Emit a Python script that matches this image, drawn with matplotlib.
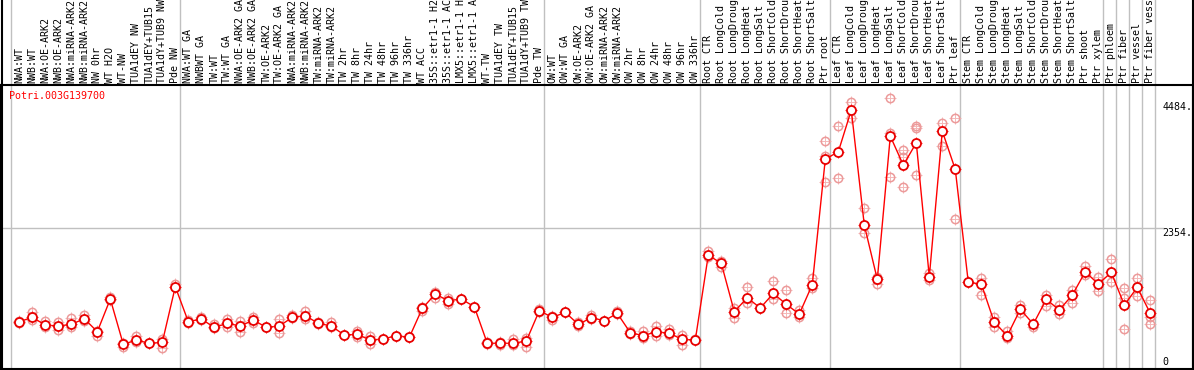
import matplotlib
matplotlib.use("Agg")
import matplotlib.pyplot as plt
from matplotlib.lines import Line2D

gene = "Potri.003G139700"

labels = [
    "NWA:WT", "NWB:WT", "NWA:OE-ARK2", "NWB:OE-ARK2", "NWA:miRNA-ARK2", "NWB:miRNA-ARK2",
    "NW 0hr", "WT H2O", "WT-NW", "TUA1dEY NW", "TUA1dEY+TUB15", "TUA1dY+TUB9 NW", "Pde NW",
    "NWA:WT GA", "NWBWT GA", "TW:WT", "TW:WT GA", "NWA:OE-ARK2 GA", "NWB:OE-ARK2 GA",
    "TW:OE-ARK2", "TW:OE-ARK2 GA", "NWA:miRNA-ARK2", "NWB:miRNA-ARK2", "TW:miRNA-ARK2",
    "TW:miRNA-ARK2", "TW 2hr", "TW 8hr", "TW 24hr", "TW 48hr", "TW 96hr", "TW 336hr",
    "WT ACC", "35S::etr1-1 H2", "35S::etr1-1 AC", "LMX5::etr1-1 H", "LMX5::etr1-1 A",
    "WT-TW", "TUA1dEY TW", "TUA1dEY+TUB15", "TUA1dY+TUB9 TW", "Pde TW",
    "OW:WT", "OW:WT GA", "OW:OE-ARK2", "OW:OE-ARK2 GA", "OW:miRNA-ARK2", "OW:miRNA-ARK2",
    "OW 2hr", "OW 8hr", "OW 24hr", "OW 48hr", "OW 96hr", "OW 336hr",
    "Root CTR", "Root LongCold", "Root LongDroug", "Root LongHeat", "Root LongSalt",
    "Root ShortCold", "Root ShortDrou", "Root ShortHeat", "Root ShortSalt", "Ptr root",
    "Leaf CTR", "Leaf LongCold", "Leaf LongDroug", "Leaf LongHeat", "Leaf LongSalt",
    "Leaf ShortCold", "Leaf ShortDrou", "Leaf ShortHeat", "Leaf ShortSalt", "Ptr leaf",
    "Stem CTR", "Stem LongCold", "Stem LongDroug", "Stem LongHeat", "Stem LongSalt",
    "Stem ShortCold", "Stem ShortDrou", "Stem ShortHeat", "Stem ShortSalt", "Ptr shoot",
    "Ptr xylem", "Ptr phloem", "Ptr fiber", "Ptr vessel", "Ptr fiber vess",
]

means = [
    672, 750, 612, 594, 624, 726, 492, 1080, 264, 342, 282, 300, 1302,
    672, 720, 570, 642, 594, 702, 570, 594, 750, 780, 642, 594, 432, 444, 342, 360,
    420, 390, 912, 1170, 1050, 1080, 942, 282, 282, 282, 324, 870,
    750, 840, 624, 744, 690, 822, 474, 420, 492, 462, 354, 342,
    1872, 1722, 852, 1104, 918, 1182, 984, 810, 1340, 3600,
    3732, 4484, 2412, 1434, 4014, 3492, 3894, 1482, 4104, 3414,
    1380, 1350, 660, 420, 894, 630, 1074, 882, 1152, 1572, 1350,
    1560, 972, 1290, 822,
]

replicates = [
    [690, 654], [841, 702], [690, 571], [666, 522], [733, 571], [787, 690], [510, 414],
    [1111, 1063], [283, 222], [414, 312], [283], [355, 192], [1351, 1291],
    [700, 650], [762, 702], [630, 553], [720, 571], [690, 486], [751, 654], [570],
    [715, 474], [792, 733], [865, 715], [672, 630], [672, 571], [432], [510, 391],
    [414, 270], [360], [420], [390], [931, 870], [1212, 1104], [1093, 991], [1080],
    [942], [312, 270], [312, 252], [355, 252], [372, 222], [895, 852],
    [774, 702], [840], [672, 594], [792, 715], [690], [870, 810], [510, 450],
    [510, 372], [594, 414], [535, 432], [432, 252], [360],
    [1945, 1832], [1770, 1651], [913, 733], [1291, 1003], [918], [1410, 1075],
    [1243, 823], [882, 751], [1453, 1273], [3926, 3656, 3182],
    [4196, 3254], [4623, 4346], [2714, 2264], [1482, 1351], [4695, 4065, 3283],
    [3764, 3633, 3103], [4196, 4155, 3314], [1543, 1423], [4245, 3842], [4335, 2516],
    [1380], [1453, 1153], [762, 571], [510, 372], [972, 823], [571], [1153, 955],
    [972, 810], [1243, 1014], [1675, 1513], [1482, 1225],
    [1796, 1381], [1273, 1093, 540], [1453, 1135], [1063, 762, 625],
]

group_starts = [0, 13, 41, 53, 63, 73, 84, 85, 86, 87, 88]
y_ticks = [4484, 2354, 0]

W, H = 1194, 370
fig = plt.figure(figsize=(W / 100, H / 100), dpi=100)
ax = fig.add_axes([1 / W, 1 / H, 1192 / W, 284 / H])

x = list(range(len(means)))
ax.set_xlim((1 - 19.3) / 13, (1193 - 19.3) / 13)
ax.set_ylim(-180, 4935)

grey = "#c0c0c0"
top_ext = 1 + 85 / 284
for g in group_starts:
    ax.axvline(g - 0.64, ymin=0, ymax=top_ext, color=grey, lw=1, clip_on=False, zorder=1)
ax.axhline(2354, xmax=(1163 - 1) / 1192, color=grey, lw=1, zorder=1)

# replicates
for i, reps in enumerate(replicates):
    xs = [i] * len(reps)
    ax.plot(xs, reps, ls="none", marker="+", ms=8, mew=0.7, color="#f4b8b8", zorder=2)
    ax.plot(xs, reps, ls="none", marker="o", ms=6, mew=1.1, mec="#ec9a9a",
            mfc="none", zorder=2)

# means
ax.plot(x, means, color="#ff0000", lw=1, zorder=3)
ax.plot(x, means, ls="none", marker="+", ms=8, mew=0.8, color="#ff3030", zorder=4)
ax.plot(x, means, ls="none", marker="o", ms=6.5, mew=1.3, mec="#e80000",
        mfc="white", zorder=5)

ax.set_xticks(x)
ax.set_xticklabels(labels, rotation=90, family="DejaVu Sans Mono", fontsize=7.2,
                   va="bottom", ha="center")
ax.xaxis.tick_top()
ax.tick_params(axis="x", length=0, pad=1.5)
ax.set_yticks([])

for v, off in zip(y_ticks, [3, -5, -3]):
    ax.annotate(f"{v}." if v else "0", (88 - 0.05, v), xytext=(0, off),
                textcoords="offset pixels", ha="left", va="center",
                family="DejaVu Sans Mono", fontsize=7.2, color="black")

ax.text(-0.8, 4730, gene, color="#ff0000", family="DejaVu Sans Mono",
        fontsize=7.2, ha="left", va="center")

for s in ax.spines.values():
    s.set_linewidth(1.5)
    s.set_color("black")

# outer frame through the label area
fig.add_artist(Line2D([1.5 / W, 1.5 / W], [0, 1], color="black", lw=1.5))
fig.add_artist(Line2D([1 - 1.5 / W, 1 - 1.5 / W], [0, 1], color="black", lw=1.5))

fig.savefig("out.png", dpi=100)
